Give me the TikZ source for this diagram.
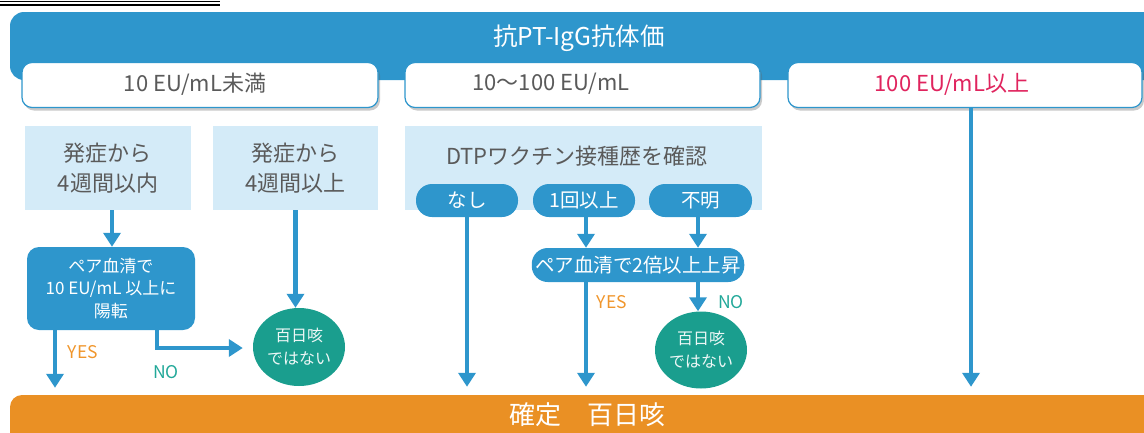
\documentclass[tikz,border=0pt]{standalone}
\usepackage{fontspec}
\newfontfamily\jp{Noto Sans CJK JP}
\usetikzlibrary{shapes.geometric,arrows.meta,shadows,calc}
\definecolor{mblue}{HTML}{2E96CC}
\definecolor{lblue}{HTML}{D4EBF8}
\definecolor{mteal}{HTML}{1A9E8E}
\definecolor{morange}{HTML}{EA9024}
\definecolor{yesor}{HTML}{F0962C}
\definecolor{noteal}{HTML}{22A899}
\definecolor{crim}{HTML}{E0245E}
\definecolor{gtext}{HTML}{5A5A5A}
\tikzset{
  band/.style={fill=mblue, draw=none, rounded corners=14pt},
  whitebox/.style={fill=white, draw=mblue, line width=1.2pt, rounded corners=10pt,
     minimum height=45pt, drop shadow={shadow xshift=2pt, shadow yshift=-3pt, opacity=0.35, fill=black!60}},
  headtxt/.style={font=\jp\fontsize{22}{26}\selectfont, text=gtext},
  lightbox/.style={fill=lblue, draw=none, minimum height=84pt, align=center, text=gtext,
     font=\jp\fontsize{22}{29.5}\selectfont},
  pill/.style={fill=mblue, draw=none, rounded corners=16pt, minimum height=33pt, text=white,
     font=\jp\fontsize{19.5}{22}\selectfont},
  bluebox/.style={fill=mblue, draw=none, rounded corners=12pt, minimum width=168pt, minimum height=83pt,
     text=white, align=center, font=\jp\fontsize{17}{22.5}\selectfont},
  tealell/.style={ellipse, fill=mteal, draw=none, minimum width=92pt, minimum height=78pt, inner sep=0pt,
     text=white!92!mteal, align=center, font=\jp\fontsize{16}{23}\selectfont},
  arr/.style={draw=mblue, line width=4.2pt, -{Triangle[width=17pt,length=14pt]}},
  yes/.style={text=yesor, font=\jp\fontsize{17.5}{20}\selectfont},
  no/.style={text=noteal, font=\jp\fontsize{17.5}{20}\selectfont},
}
\begin{document}
\begin{tikzpicture}[x=1pt,y=-1pt]
\useasboundingbox (0,0) rectangle (1144,432);
\clip (0,0) rectangle (1144,432);
% stray rule lines at top-left
\draw[black, line width=0.9pt] (0,1) -- (220,1);
\draw[black, line width=2pt] (0,4.8) -- (220,4.8);
% top band
\node[band, minimum width=1160pt, minimum height=68pt] (band) at (590,46) {};
\node[font=\jp\fontsize{24.5}{28}\selectfont, text=white] (title) at (579,38) {抗PT-IgG抗体価};
% white header boxes
\node[whitebox, minimum width=356pt] (w1) at (200,85) {};
\node[headtxt] (t1) at (195,84) {10 EU/mL未満};
\node[whitebox, minimum width=355pt] (w2) at (582.5,85) {};
\node[headtxt] (t2) at (551,84) {10〜100 EU/mL};
\node[whitebox, minimum width=354pt] (w3) at (965,85) {};
\node[headtxt, text=crim] (t3) at (952,84) {100 EU/mL以上};
% light boxes
\node[lightbox, minimum width=166pt] (lb1) at (108,168) {発症から\\4週間以内};
\node[lightbox, minimum width=165pt] (lb2) at (295.5,168) {発症から\\4週間以上};
\node[lightbox, minimum width=357pt] (lb3) at (583.5,168) {};
\node[font=\jp\fontsize{22}{26}\selectfont, text=gtext] (t4) at (577,156) {DTPワクチン接種歴を確認};
% pills
\node[pill, minimum width=102pt] (p1) at (467,200.5) {なし};
\node[pill, minimum width=102pt] (p2) at (584,200.5) {1回以上};
\node[pill, minimum width=103pt] (p3) at (700.5,200.5) {不明};
\node[pill, minimum width=210pt, minimum height=34pt] (p4) at (638,265) {ペア血清で2倍以上上昇};
% left blue box
\node[bluebox] (bx) at (111,288.5) {ペア血清で\\10 EU/mL 以上に\\陽転};
% teal ellipses
\node[tealell] (e1) at (299,347) {百日咳\\ではない};
\node[tealell, minimum height=77pt] (e2) at (701,350) {百日咳\\ではない};
% bottom bar
\node[fill=morange, draw=none, rounded corners=12pt, minimum width=1160pt, minimum height=60pt] (bar) at (590,425) {};
\node[font=\jp\fontsize{26}{30}\selectfont, text=white] (t5) at (587,415) {確定　百日咳};
% arrows
\draw[arr] ([xshift=4pt]lb1.south) -- ([xshift=4pt]lb1.south |- bx.north);
\draw[arr] (lb2.south) -- (lb2.south |- e1.north);
\draw[arr, shorten >=7pt] ([xshift=-56pt]bx.south) -- ([xshift=-56pt]bx.south |- bar.north);
\draw[arr] ([xshift=46pt]bx.south) |- ([xshift=-10pt,yshift=-1pt]e1.west);
\draw[arr, shorten >=8pt] (p1.south) -- (p1.south |- bar.north);
\draw[arr] ([xshift=2pt]p2.south) -- ([xshift=2pt]p2.south |- p4.north);
\draw[arr] ([xshift=-2.5pt]p3.south) -- ([xshift=-2.5pt]p3.south |- p4.north);
\draw[arr, shorten >=8pt] ([xshift=2pt]p2.south |- p4.south) -- ([xshift=2pt]p2.south |- bar.north);
\draw[arr] ([xshift=-2.5pt]p3.south |- p4.south) -- ([xshift=-2.5pt]p3.south |- e2.north);
\draw[arr, shorten >=8pt] ([xshift=6pt]w3.south) -- ([xshift=6pt]w3.south |- bar.north);
% labels
\node[yes] (y1) at (83,352) {YES};
\node[no] (n1) at (166,372) {NO};
\node[yes] (y2) at (612,302) {YES};
\node[no] (n2) at (731,302) {NO};
\end{tikzpicture}
\end{document}
